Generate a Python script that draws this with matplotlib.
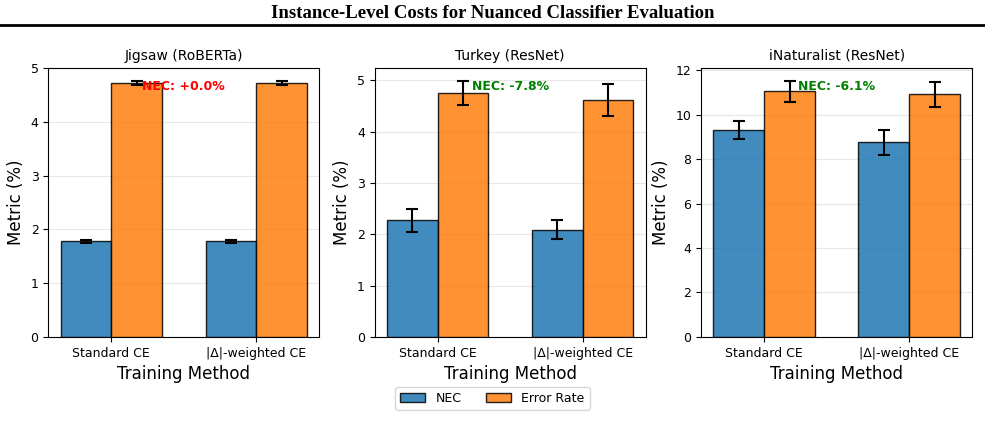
import numpy as np
import matplotlib
matplotlib.use("Agg")
import matplotlib.pyplot as plt
from matplotlib.lines import Line2D

# Data
methods = ["Standard CE", "|Δ|-weighted CE"]
datasets = ["Jigsaw (RoBERTa)", "Turkey (ResNet)", "iNaturalist (ResNet)"]

nec_mean = [[1.78, 1.78], [2.27, 2.09], [9.33, 8.76]]
nec_err = [[0.03, 0.03], [0.23, 0.19], [0.40, 0.57]]
err_mean = [[4.73, 4.73], [4.75, 4.62], [11.05, 10.92]]
err_err = [[0.04, 0.04], [0.24, 0.31], [0.48, 0.57]]
nec_change = ["+0.0%", "-7.8%", "-6.1%"]
change_colors = ["red", "green", "green"]

fig, axes = plt.subplots(1, 3, figsize=(9.85, 4.33), dpi=100)
fig.subplots_adjust(left=0.049, right=0.987, top=0.843, bottom=0.222, wspace=0.204)

x = np.arange(len(methods))
width = 0.35

for i, ax in enumerate(axes):
    ax.bar(x - width / 2, nec_mean[i], width, yerr=nec_err[i], capsize=4,
           color="tab:blue", alpha=0.85, edgecolor="black", linewidth=1,
           error_kw=dict(elinewidth=1.5, capthick=1.5), label="NEC", zorder=3)
    ax.bar(x + width / 2, err_mean[i], width, yerr=err_err[i], capsize=4,
           color="tab:orange", alpha=0.85, edgecolor="black", linewidth=1,
           error_kw=dict(elinewidth=1.5, capthick=1.5), label="Error Rate", zorder=3)
    top = max(np.array(err_mean[i]) + np.array(err_err[i])) * 1.05
    ax.set_ylim(0, top)
    ax.set_xticks(x)
    ax.set_xticklabels(methods, fontsize=9)
    ax.tick_params(axis="y", labelsize=9)
    ax.set_title(datasets[i], fontsize=10)
    ax.set_xlabel("Training Method", fontsize=12)
    ax.set_ylabel("Metric (%)", fontsize=12)
    ax.grid(axis="y", alpha=0.3, zorder=0)
    ax.set_axisbelow(True)
    ax.text(0.5, 0.93, f"NEC: {nec_change[i]}", transform=ax.get_xaxis_transform(),
            ha="center", va="center", fontsize=9, fontweight="bold",
            color=change_colors[i], zorder=5)

handles, labels = axes[0].get_legend_handles_labels()
fig.legend(handles, labels, loc="center", bbox_to_anchor=(0.5, 0.08), ncol=2,
           fontsize=9, frameon=True)

fig.suptitle("Instance-Level Costs for Nuanced Classifier Evaluation",
             fontsize=13.5, fontweight="bold", family="Liberation Serif",
             y=0.968, va="center")
fig.add_artist(Line2D([0.0, 1.0], [0.942, 0.942], transform=fig.transFigure,
                      color="black", linewidth=2))

fig.savefig("out.png", dpi=100)
